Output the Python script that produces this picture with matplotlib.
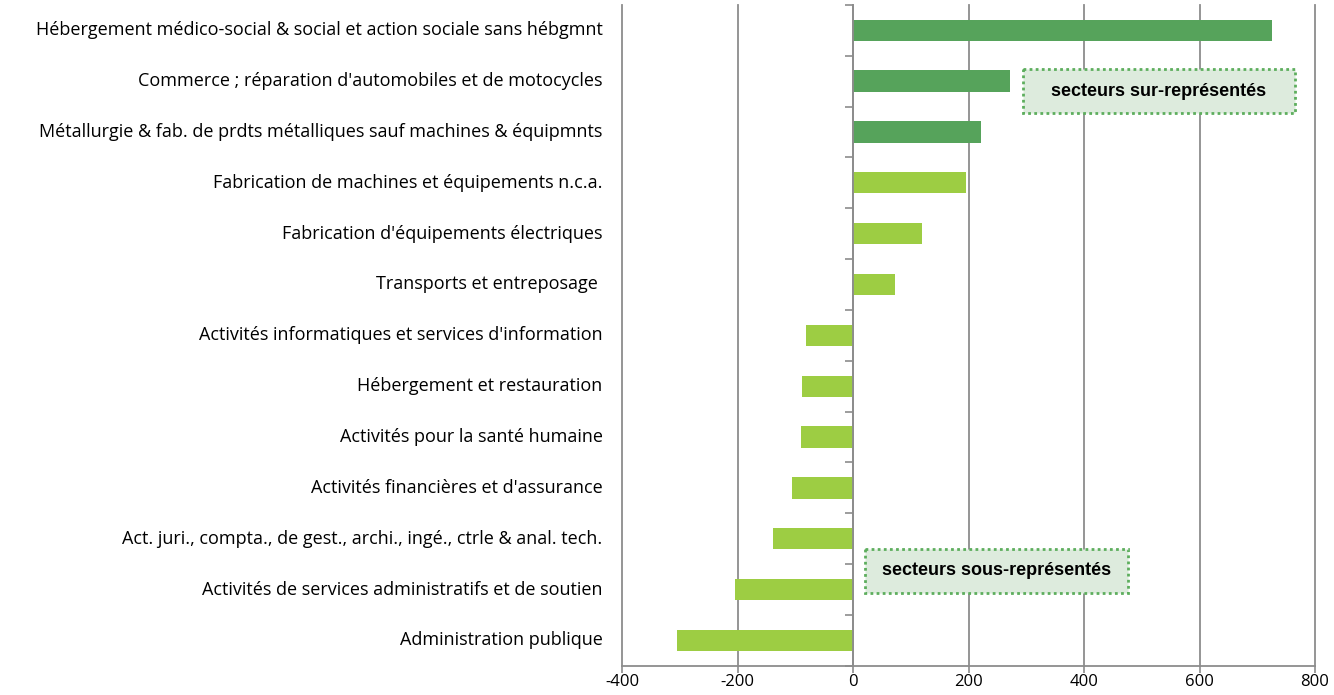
import matplotlib.pyplot as plt
from matplotlib.patches import Rectangle
from matplotlib.transforms import blended_transform_factory

plt.rcParams['font.family'] = ['Open Sans', 'DejaVu Sans']

# Secteurs (de haut en bas) et écarts
secteurs = [
    "Hébergement médico-social & social et action sociale sans hébgmnt",
    "Commerce ; réparation d'automobiles et de motocycles",
    "Métallurgie & fab. de prdts métalliques sauf machines & équipmnts",
    "Fabrication de machines et équipements n.c.a.",
    "Fabrication d'équipements électriques",
    "Transports et entreposage ",
    "Activités informatiques et services d'information",
    "Hébergement et restauration",
    "Activités pour la santé humaine",
    "Activités financières et d'assurance",
    "Act. juri., compta., de gest., archi., ingé., ctrle & anal. tech.",
    "Activités de services administratifs et de soutien",
    "Administration publique",
]
valeurs = [725, 271, 222, 195, 120, 72, -82, -88, -90, -105, -138, -205, -305]
n_fonce = 3  # les trois premiers en vert foncé

x_ticks = [-400, -200, 0, 200, 400, 600, 800]

fonce = '#56A35B'
clair = '#9DCD43'
gris = '#8C8C8C'

fig = plt.figure(figsize=(13.34, 6.95), dpi=100)
ax = fig.add_axes([0.4663, 0.042, 0.5195, 0.951])

pos = list(range(len(secteurs)))
couleurs = [fonce if i < n_fonce else clair for i in pos]
ax.barh(pos, valeurs, height=0.42, color=couleurs, zorder=3)

ax.set_xlim(-400, 800)
ax.set_ylim(len(secteurs) - 0.5, -0.5)
ax.set_xticks(x_ticks)
ax.set_xticklabels([str(v) for v in x_ticks], fontsize=12)
ax.tick_params(axis='x', length=5, width=1.2, color=gris, pad=1)
ax.grid(axis='x', color=gris, lw=1.3, zorder=0)
for gl in ax.get_xgridlines():
    gl.set_clip_on(False)

# axe vertical à zéro avec graduations entre catégories
ax.spines['left'].set_position(('data', 0))
ax.spines['left'].set_color(gris)
ax.spines['left'].set_linewidth(1.3)
ax.spines['left'].set_zorder(4)
ax.set_yticks([p - 0.5 for p in pos] + [len(secteurs) - 0.5])
ax.set_yticklabels([])
ax.tick_params(axis='y', length=6, width=1.2, color=gris, direction='out')
for s in ['top', 'right']:
    ax.spines[s].set_visible(False)
ax.spines['bottom'].set_color(gris)
ax.spines['bottom'].set_linewidth(1.3)

# libellés des catégories à gauche de la zone de tracé
tr = blended_transform_factory(ax.transAxes, ax.transData)
for p, lab in zip(pos, secteurs):
    ax.text(-0.028, p, lab, transform=tr, ha='right', va='center', fontsize=13)

# encadrés
for (x0, x1, y0, y1, txt) in [(294, 765, 0.77, 1.63, 'secteurs sur-représentés'),
                              (21, 476, 10.2, 11.06, 'secteurs sous-représentés')]:
    ax.add_patch(Rectangle((x0, y0), x1 - x0, y1 - y0, fc='#DDEBDD', ec='#5DAE5D',
                           ls=(0, (1, 1.2)), lw=2, zorder=5))
    ax.text((x0 + x1) / 2, (y0 + y1) / 2, txt, ha='center', va='center',
            fontsize=13, fontweight='bold', family=['Liberation Sans', 'DejaVu Sans'],
            zorder=6)

fig.savefig('out.png', dpi=100)
